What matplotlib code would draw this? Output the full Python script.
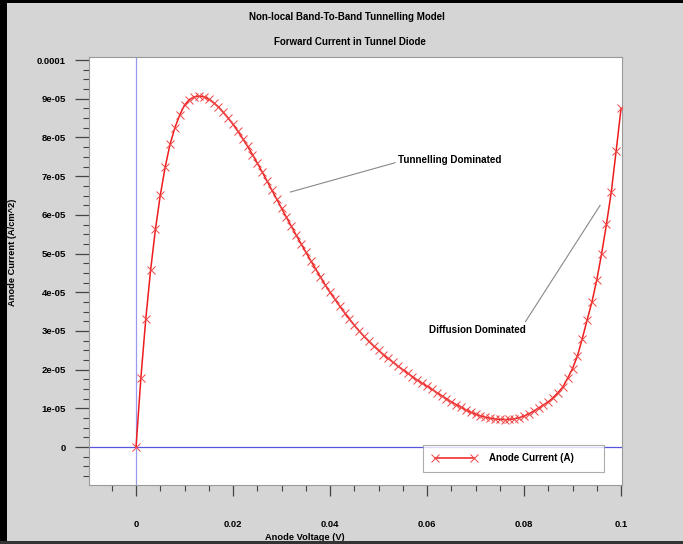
import numpy as np
import matplotlib
matplotlib.use("Agg")
import matplotlib.pyplot as plt
from matplotlib.ticker import MultipleLocator, FixedLocator, FixedFormatter
from matplotlib.patches import Rectangle

plt.rcParams['font.family'] = ['Liberation Sans', 'DejaVu Sans']
plt.rcParams['font.weight'] = 'bold'

# ---- data ----
voltage_mV = list(range(0, 101))          # anode voltage in mV, step 1 mV
current_e5 = [                              # anode current in units of 1e-5
    0.00, 1.79, 3.30, 4.57, 5.63, 6.51, 7.23, 7.82, 8.25, 8.58,
    8.84, 8.98, 9.05, 9.07, 9.05, 8.99, 8.90, 8.79, 8.65, 8.50,
    8.34, 8.16, 7.97, 7.77, 7.56, 7.34, 7.11, 6.88, 6.64, 6.41,
    6.17, 5.94, 5.71, 5.48, 5.26, 5.04, 4.82, 4.61, 4.40, 4.19,
    4.00, 3.82, 3.64, 3.47, 3.31, 3.15, 3.00, 2.86, 2.73, 2.61,
    2.50, 2.39, 2.29, 2.19, 2.09, 2.00, 1.91, 1.82, 1.73, 1.65,
    1.57, 1.49, 1.41, 1.33, 1.25, 1.17, 1.10, 1.03, 0.96, 0.90,
    0.85, 0.81, 0.77, 0.745, 0.725, 0.715, 0.71, 0.715, 0.73, 0.76,
    0.80, 0.86, 0.93, 1.01, 1.09, 1.17, 1.28, 1.41, 1.55, 1.78,
    2.03, 2.35, 2.80, 3.28, 3.75, 4.32, 5.00, 5.76, 6.60, 7.66,
    8.75,
]
y_ticks = [0, 1e-5, 2e-5, 3e-5, 4e-5, 5e-5, 6e-5, 7e-5, 8e-5, 9e-5, 1e-4]
y_ticklabels = ['0', '1e-05', '2e-05', '3e-05', '4e-05', '5e-05',
                '6e-05', '7e-05', '8e-05', '9e-05', '0.0001']
x_ticks = [0, 0.02, 0.04, 0.06, 0.08, 0.1]
x_ticklabels = ['0', '0.02', '0.04', '0.06', '0.08', '0.1']

x = np.array(voltage_mV) / 1000.0
y = np.array(current_e5) * 1e-5

W, H = 683, 544
fig = plt.figure(figsize=(W / 100, H / 100), dpi=100, facecolor='#d5d5d5')

# black frame around figure
fig.patches.append(Rectangle((0, 0), 7 / W, 1, transform=fig.transFigure,
                             facecolor='black', edgecolor='none', zorder=10))
fig.patches.append(Rectangle((0, 1 - 3 / H), 1, 3 / H, transform=fig.transFigure,
                             facecolor='black', edgecolor='none', zorder=10))
fig.patches.append(Rectangle((0, 0), 1, 3 / H, transform=fig.transFigure,
                             facecolor='#333333', edgecolor='none', zorder=10))

left, right, top, bottom = 89, 622, 57, 485
ax = fig.add_axes([left / W, 1 - bottom / H, (right - left) / W, (bottom - top) / H])
ax.set_facecolor('white')
for s in ax.spines.values():
    s.set_color('#9a9a9a')
    s.set_linewidth(0.8)

ax.axhline(0, color='#5555dd', lw=0.9, zorder=1)
ax.axvline(0, color='#9999ee', lw=0.9, zorder=1)

ax.plot(x, y, color='#ee1c1c', lw=1.1, marker='x', markersize=5.5,
        markeredgewidth=0.7, markeredgecolor='#f04545', label='Anode Current (A)',
        zorder=3)

ax.set_xlim(-0.0097, 0.1002)
ax.set_ylim(-0.98e-5, 1.008e-4)

ax.yaxis.set_major_locator(FixedLocator(y_ticks))
ax.yaxis.set_major_formatter(FixedFormatter(y_ticklabels))
ax.yaxis.set_minor_locator(MultipleLocator(2.5e-6))
ax.xaxis.set_major_locator(FixedLocator(x_ticks))
ax.xaxis.set_major_formatter(FixedFormatter(x_ticklabels))
ax.xaxis.set_minor_locator(MultipleLocator(0.005))

ax.tick_params(axis='y', which='major', direction='out', length=10, width=0.9,
               color='#444444', pad=6.5, labelsize=6.8)
ax.tick_params(axis='y', which='minor', direction='out', length=4.5, width=0.8,
               color='#444444')
ax.tick_params(axis='x', which='major', direction='out', length=8, width=0.9,
               color='#444444', pad=17, labelsize=6.8)
ax.tick_params(axis='x', which='minor', direction='out', length=4, width=0.8,
               color='#444444')
for lab in ax.get_xticklabels() + ax.get_yticklabels():
    lab.set_fontweight('bold')

# annotations
ax.annotate('Tunnelling Dominated', xy=(0.0318, 6.59e-5), xytext=(0.0540, 7.42e-5),
            fontsize=7.1, fontweight='bold', ha='left', va='center',
            arrowprops=dict(arrowstyle='-', color='#888888', lw=0.8,
                            shrinkA=0, shrinkB=0, relpos=(0, 0.3)))
ax.annotate('Diffusion Dominated', xy=(0.0957, 6.25e-5), xytext=(0.0703, 3.03e-5),
            fontsize=7.1, fontweight='bold', ha='center', va='center',
            arrowprops=dict(arrowstyle='-', color='#888888', lw=0.8,
                            shrinkA=0, shrinkB=0, relpos=(1, 1.3)))

leg = ax.legend(loc='lower left', bbox_to_anchor=(0.627, 0.030, 0.339, 0.075),
                mode='expand', fontsize=7, frameon=True, fancybox=False,
                numpoints=2, handlelength=4.6, handletextpad=1.3,
                borderaxespad=0, borderpad=0.9)
leg.get_frame().set_edgecolor('#999999')
leg.get_frame().set_linewidth(0.8)
for t in leg.get_texts():
    t.set_fontweight('bold')

fig.text(347 / W, 1 - 17 / H, 'Non-local Band-To-Band Tunnelling Model',
         ha='center', va='center', fontsize=7, fontweight='bold')
fig.text(350 / W, 1 - 42 / H, 'Forward Current in Tunnel Diode',
         ha='center', va='center', fontsize=7, fontweight='bold')
fig.text(305 / W, 1 - 537 / H, 'Anode Voltage (V)', ha='center', va='center',
         fontsize=6.7, fontweight='bold')
fig.text(13 / W, 1 - 252 / H, 'Anode Current (A/cm^2)', ha='center', va='center',
         rotation=90, fontsize=6.7, fontweight='bold')

fig.savefig('out.png', dpi=100, facecolor=fig.get_facecolor())
